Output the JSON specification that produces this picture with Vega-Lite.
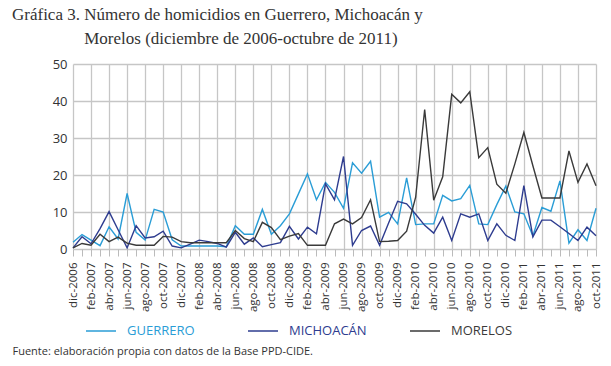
{
  "$schema": "https://vega.github.io/schema/vega-lite/v6.json",
  "width": 523,
  "height": 185,
  "autosize": "none",
  "padding": {"left": 73, "top": 64, "right": 15, "bottom": 117},
  "background": "white",
  "title": {
    "text": "Gráfica 3. Número de homicidios en Guerrero, Michoacán y",
    "subtitle": "\u200b\u00a0\u00a0\u00a0\u00a0\u00a0\u00a0\u00a0\u00a0\u00a0\u00a0\u00a0\u00a0\u00a0\u00a0\u00a0\u00a0\u00a0Morelos (diciembre de 2006-octubre de 2011)",
    "anchor": "start",
    "frame": "group",
    "dx": -61,
    "offset": 10,
    "font": "Liberation Serif",
    "fontSize": 17,
    "fontWeight": "normal",
    "color": "#333333",
    "subtitleFont": "Liberation Serif",
    "subtitleFontSize": 17,
    "subtitleFontWeight": "normal",
    "subtitleColor": "#333333",
    "subtitlePadding": 7
  },
  "data": {
    "values": [
      {"mes": "dic-2006", "GUERRERO": 1.8, "MICHOACÁN": 0.3, "MORELOS": 0.3},
      {"mes": "ene-2007", "GUERRERO": 3.9, "MICHOACÁN": 3.3, "MORELOS": 1.5},
      {"mes": "feb-2007", "GUERRERO": 2.4, "MICHOACÁN": 1.4, "MORELOS": 1},
      {"mes": "mar-2007", "GUERRERO": 0.9, "MICHOACÁN": 5.5, "MORELOS": 4},
      {"mes": "abr-2007", "GUERRERO": 6, "MICHOACÁN": 10.1, "MORELOS": 2},
      {"mes": "may-2007", "GUERRERO": 2.7, "MICHOACÁN": 5.2, "MORELOS": 3.2},
      {"mes": "jun-2007", "GUERRERO": 15, "MICHOACÁN": 0.3, "MORELOS": 1.6},
      {"mes": "jul-2007", "GUERRERO": 4.5, "MICHOACÁN": 6.3, "MORELOS": 1},
      {"mes": "ago-2007", "GUERRERO": 2.4, "MICHOACÁN": 3, "MORELOS": 1},
      {"mes": "sep-2007", "GUERRERO": 10.7, "MICHOACÁN": 3.3, "MORELOS": 1},
      {"mes": "oct-2007", "GUERRERO": 10, "MICHOACÁN": 4.8, "MORELOS": 3.4},
      {"mes": "nov-2007", "GUERRERO": 2.5, "MICHOACÁN": 0.8, "MORELOS": 3.2},
      {"mes": "dic-2007", "GUERRERO": 0.8, "MICHOACÁN": 0.3, "MORELOS": 2},
      {"mes": "ene-2008", "GUERRERO": 0.8, "MICHOACÁN": 1.3, "MORELOS": 1.7},
      {"mes": "feb-2008", "GUERRERO": 0.8, "MICHOACÁN": 2.4, "MORELOS": 1.7},
      {"mes": "mar-2008", "GUERRERO": 0.8, "MICHOACÁN": 2, "MORELOS": 1.7},
      {"mes": "abr-2008", "GUERRERO": 0.8, "MICHOACÁN": 1.5, "MORELOS": 1.7},
      {"mes": "may-2008", "GUERRERO": 0.6, "MICHOACÁN": 0.5, "MORELOS": 1.7},
      {"mes": "jun-2008", "GUERRERO": 6.3, "MICHOACÁN": 4.5, "MORELOS": 5},
      {"mes": "jul-2008", "GUERRERO": 4, "MICHOACÁN": 1.3, "MORELOS": 2.8},
      {"mes": "ago-2008", "GUERRERO": 4, "MICHOACÁN": 3, "MORELOS": 2},
      {"mes": "sep-2008", "GUERRERO": 10.7, "MICHOACÁN": 0.6, "MORELOS": 7.2},
      {"mes": "oct-2008", "GUERRERO": 4, "MICHOACÁN": 1.2, "MORELOS": 5.8},
      {"mes": "nov-2008", "GUERRERO": 6.3, "MICHOACÁN": 1.7, "MORELOS": 2.5},
      {"mes": "dic-2008", "GUERRERO": 9.5, "MICHOACÁN": 6.1, "MORELOS": 3.5},
      {"mes": "ene-2009", "GUERRERO": 14.9, "MICHOACÁN": 2.7, "MORELOS": 4.2},
      {"mes": "feb-2009", "GUERRERO": 20.3, "MICHOACÁN": 5.9, "MORELOS": 1},
      {"mes": "mar-2009", "GUERRERO": 13.3, "MICHOACÁN": 4.1, "MORELOS": 1},
      {"mes": "abr-2009", "GUERRERO": 18, "MICHOACÁN": 17.6, "MORELOS": 1},
      {"mes": "may-2009", "GUERRERO": 15.3, "MICHOACÁN": 13.3, "MORELOS": 6.8},
      {"mes": "jun-2009", "GUERRERO": 11, "MICHOACÁN": 25, "MORELOS": 8.1},
      {"mes": "jul-2009", "GUERRERO": 23.3, "MICHOACÁN": 1, "MORELOS": 6.8},
      {"mes": "ago-2009", "GUERRERO": 20.5, "MICHOACÁN": 5, "MORELOS": 8.5},
      {"mes": "sep-2009", "GUERRERO": 23.7, "MICHOACÁN": 6.2, "MORELOS": 13.3},
      {"mes": "oct-2009", "GUERRERO": 8.6, "MICHOACÁN": 1, "MORELOS": 2},
      {"mes": "nov-2009", "GUERRERO": 9.9, "MICHOACÁN": 7, "MORELOS": 2.1},
      {"mes": "dic-2009", "GUERRERO": 6.8, "MICHOACÁN": 12.9, "MORELOS": 2.3},
      {"mes": "ene-2010", "GUERRERO": 19.2, "MICHOACÁN": 12.2, "MORELOS": 4.8},
      {"mes": "feb-2010", "GUERRERO": 6.6, "MICHOACÁN": 9.4, "MORELOS": 14},
      {"mes": "mar-2010", "GUERRERO": 6.8, "MICHOACÁN": 6.4, "MORELOS": 37.7},
      {"mes": "abr-2010", "GUERRERO": 6.8, "MICHOACÁN": 4.3, "MORELOS": 13.2},
      {"mes": "may-2010", "GUERRERO": 14.5, "MICHOACÁN": 8.6, "MORELOS": 19.5},
      {"mes": "jun-2010", "GUERRERO": 13, "MICHOACÁN": 2.3, "MORELOS": 41.8},
      {"mes": "jul-2010", "GUERRERO": 13.6, "MICHOACÁN": 9.5, "MORELOS": 39.5},
      {"mes": "ago-2010", "GUERRERO": 17.2, "MICHOACÁN": 8.6, "MORELOS": 42.5},
      {"mes": "sep-2010", "GUERRERO": 6.8, "MICHOACÁN": 9.5, "MORELOS": 24.7},
      {"mes": "oct-2010", "GUERRERO": 6.6, "MICHOACÁN": 2.3, "MORELOS": 27.4},
      {"mes": "nov-2010", "GUERRERO": 12, "MICHOACÁN": 6.8, "MORELOS": 17.5},
      {"mes": "dic-2010", "GUERRERO": 17, "MICHOACÁN": 3.7, "MORELOS": 15.1},
      {"mes": "ene-2011", "GUERRERO": 10, "MICHOACÁN": 2.3, "MORELOS": 23},
      {"mes": "feb-2011", "GUERRERO": 9.5, "MICHOACÁN": 17.1, "MORELOS": 31.5},
      {"mes": "mar-2011", "GUERRERO": 3.5, "MICHOACÁN": 3.3, "MORELOS": 22.5},
      {"mes": "abr-2011", "GUERRERO": 11.2, "MICHOACÁN": 7.8, "MORELOS": 13.8},
      {"mes": "may-2011", "GUERRERO": 10.2, "MICHOACÁN": 7.8, "MORELOS": 13.8},
      {"mes": "jun-2011", "GUERRERO": 18.4, "MICHOACÁN": 6, "MORELOS": 13.8},
      {"mes": "jul-2011", "GUERRERO": 1.6, "MICHOACÁN": 4.2, "MORELOS": 26.5},
      {"mes": "ago-2011", "GUERRERO": 5.2, "MICHOACÁN": 2.3, "MORELOS": 18},
      {"mes": "sep-2011", "GUERRERO": 2.3, "MICHOACÁN": 5.9, "MORELOS": 23},
      {"mes": "oct-2011", "GUERRERO": 11, "MICHOACÁN": 3.6, "MORELOS": 17.1}
    ]
  },
  "transform": [
    {"fold": ["GUERRERO", "MICHOACÁN", "MORELOS"], "as": ["estado", "homicidios"]}
  ],
  "mark": {"type": "line", "strokeWidth": 1.4},
  "encoding": {
    "x": {
      "field": "mes",
      "type": "ordinal",
      "sort": null,
      "scale": {"type": "point", "padding": 0},
      "axis": {
        "title": "Fuente: elaboración propia con datos de la Base PPD-CIDE.",
        "titleFont": "Open Sans",
        "titleFontSize": 11,
        "titleFontWeight": "normal",
        "titleColor": "#333333",
        "titleAnchor": "start",
        "titleAlign": "left",
        "titleX": -61,
        "titleY": 105,
        "titleBaseline": "alphabetic",
        "labelAngle": -90,
        "labelExpr": "indexof(['dic','feb','abr','jun','ago','oct'], slice(datum.value,0,3)) >= 0 ? datum.value : ''",
        "labelFont": "Open Sans",
        "labelFontSize": 11.5,
        "labelColor": "#333333",
        "labelPadding": 6,
        "labelOverlap": false,
        "tickSize": 7,
        "tickColor": "#bbbbbb",
        "tickWidth": 1,
        "domain": false,
        "grid": true,
        "gridColor": "#c6c6c6",
        "gridWidth": 1.3,
        "gridOpacity": {
          "condition": {"test": "indexof(['dic','feb','abr','jun','ago','oct'], slice(datum.value,0,3)) >= 0", "value": 1},
          "value": 0
        }
      }
    },
    "y": {
      "field": "homicidios",
      "type": "quantitative",
      "scale": {"domain": [0, 50], "nice": false},
      "axis": {
        "title": null,
        "values": [0, 10, 20, 30, 40, 50],
        "labelFont": "Open Sans",
        "labelFontSize": 13,
        "labelColor": "#333333",
        "labelPadding": 6,
        "ticks": false,
        "domain": false,
        "grid": true,
        "gridColor": "#c6c6c6",
        "gridWidth": 1.3
      }
    },
    "color": {
      "field": "estado",
      "type": "nominal",
      "scale": {
        "domain": ["GUERRERO", "MICHOACÁN", "MORELOS"],
        "range": ["#2a9dd6", "#2e3c8f", "#3a3a3a"]
      },
      "legend": {
        "title": null,
        "orient": "none",
        "legendX": 12,
        "legendY": 251,
        "direction": "horizontal",
        "columns": 3,
        "gridAlign": "all",
        "columnPadding": 40,
        "symbolType": "stroke",
        "symbolSize": 900,
        "symbolStrokeWidth": 1.5,
        "labelFont": "Open Sans",
        "labelFontSize": 13,
        "labelOffset": 10,
        "labelColor": {"expr": "datum.label == 'GUERRERO' ? '#2a9dd6' : datum.label == 'MORELOS' ? '#3a3a3a' : '#2e3c8f'"}
      }
    }
  },
  "config": {"view": {"stroke": null}}
}
